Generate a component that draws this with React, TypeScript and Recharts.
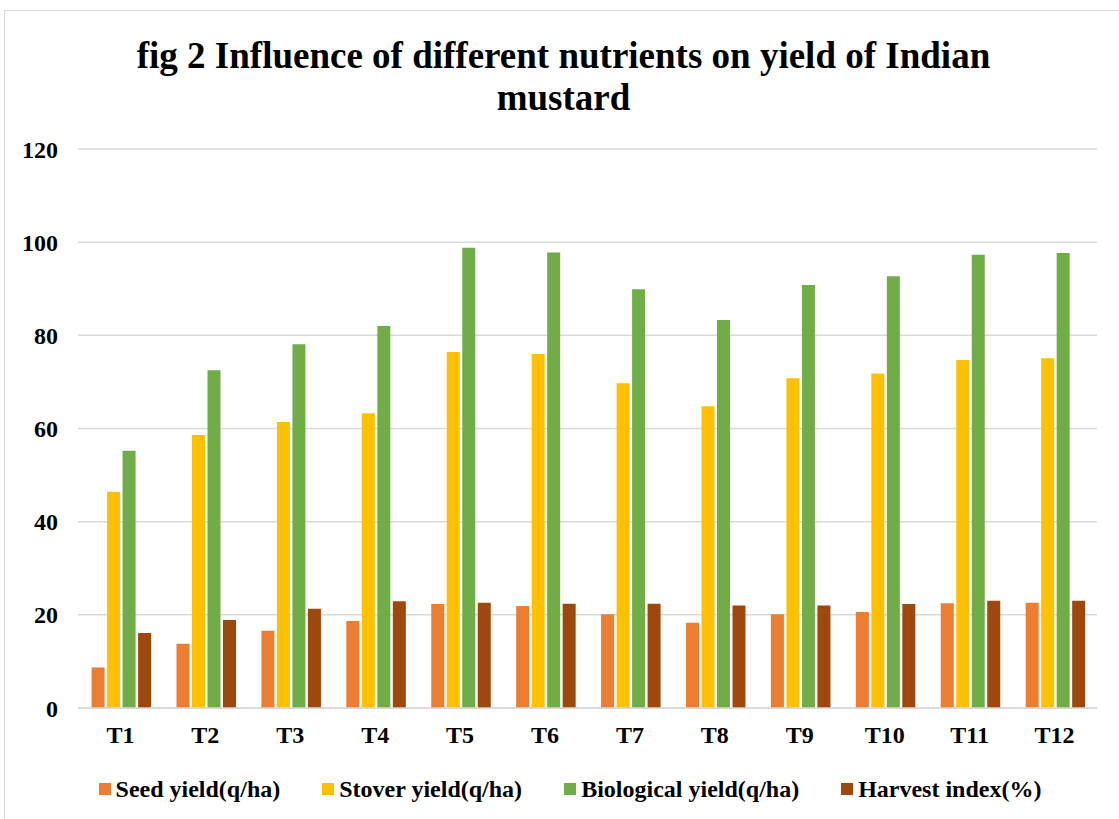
import { Bar, BarChart, CartesianGrid, Legend, XAxis, YAxis } from "recharts";

const treatments = ["T1", "T2", "T3", "T4", "T5", "T6", "T7", "T8", "T9", "T10", "T11", "T12"];
const seedYield = [8.7, 13.8, 16.6, 18.7, 22.3, 21.9, 20.1, 18.3, 20.1, 20.6, 22.5, 22.6];
const stoverYield = [46.4, 58.6, 61.4, 63.3, 76.4, 76.0, 69.7, 64.8, 70.8, 71.8, 74.7, 75.1];
const biologicalYield = [55.2, 72.5, 78.1, 82.0, 98.8, 97.8, 89.9, 83.3, 90.8, 92.7, 97.3, 97.7];
const harvestIndex = [16.1, 18.9, 21.3, 22.9, 22.6, 22.4, 22.4, 22.0, 22.0, 22.3, 23.0, 23.0];
const yTicks = [0, 20, 40, 60, 80, 100, 120];

const series = [
  { key: "seed", name: "Seed yield(q/ha)", color: "#ED7D31" },
  { key: "stover", name: "Stover yield(q/ha)", color: "#FFC000" },
  { key: "bio", name: "Biological yield(q/ha)", color: "#70AD47" },
  { key: "hi", name: "Harvest index(%)", color: "#9E480E" },
];

const data = treatments.map((t, i) => ({
  name: t,
  seed: seedYield[i],
  stover: stoverYield[i],
  bio: biologicalYield[i],
  hi: harvestIndex[i],
}));

const FONT = "'Liberation Serif', 'Times New Roman', serif";

function LegendContent() {
  return (
    <div
      style={{
        width: 1119,
        paddingLeft: 21,
        boxSizing: "border-box",
        display: "flex",
        justifyContent: "center",
        alignItems: "center",
        gap: 42,
        height: 40,
      }}
    >
      {series.map((s) => (
        <div key={s.key} style={{ display: "flex", alignItems: "center" }}>
          <span style={{ width: 12, height: 12, background: s.color, marginRight: 5, display: "inline-block" }} />
          <span style={{ fontFamily: FONT, fontWeight: "bold", fontSize: 24, color: "#000" }}>{s.name}</span>
        </div>
      ))}
    </div>
  );
}

export default function App() {
  return (
    <div style={{ position: "absolute", left: 0, top: 0, width: 1119, height: 819, overflow: "hidden", background: "#fff" }}>
      <div
        style={{
          position: "absolute",
          left: 4,
          top: 10,
          width: 1200,
          height: 900,
          border: "1.5px solid #d9d9d9",
        }}
      />
      <div
        style={{
          position: "absolute",
          left: 4,
          top: 35,
          width: 1119,
          textAlign: "center",
          fontFamily: FONT,
          fontWeight: "bold",
          fontSize: 37,
          lineHeight: "42px",
          color: "#000",
        }}
      >
        fig 2 Influence of different nutrients on yield of Indian
        <br />
        mustard
      </div>
      <BarChart
        width={1119}
        height={819}
        data={data}
        margin={{ top: 149, right: 22, left: 0, bottom: 10 }}
        barCategoryGap="16%"
        barGap={2.5}
        style={{ position: "absolute", left: 0, top: 0 }}
      >
        <CartesianGrid vertical={false} stroke="#d9d9d9" strokeWidth={1.5} />
        <XAxis
          dataKey="name"
          height={61}
          tickSize={0}
          tickMargin={18}
          axisLine={{ stroke: "#d9d9d9", strokeWidth: 1.5 }}
          tickLine={false}
          tick={{ fill: "#000", fontFamily: FONT, fontWeight: "bold", fontSize: 24 }}
        />
        <YAxis
          width={78}
          domain={[0, 120]}
          ticks={yTicks}
          tickSize={0}
          tickMargin={20}
          axisLine={false}
          tickLine={false}
          tick={{ fill: "#000", fontFamily: FONT, fontWeight: "bold", fontSize: 24 }}
        />
        <Legend verticalAlign="bottom" height={40} content={<LegendContent />} />
        {series.map((s) => (
          <Bar key={s.key} dataKey={s.key} name={s.name} fill={s.color} isAnimationActive={false} />
        ))}
      </BarChart>
    </div>
  );
}
